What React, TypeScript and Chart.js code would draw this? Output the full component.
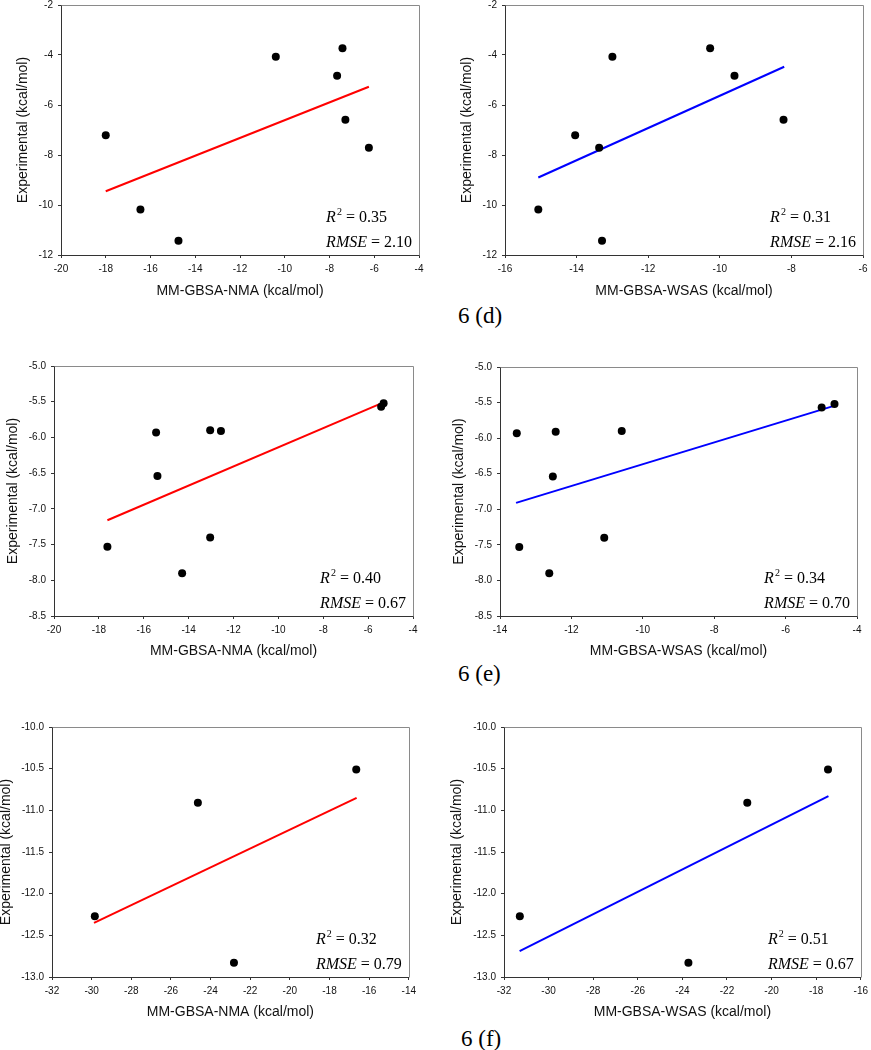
import React, { useEffect, useRef } from 'react';
import { Chart, registerables } from 'chart.js';

Chart.register(...registerables);

// ---------- data: row (d) ----------
const expD = [-7.21, -10.18, -11.43, -4.07, -3.73, -4.83, -6.59, -7.71];
const nmaD = [-18.0, -16.45, -14.75, -10.4, -7.42, -7.66, -7.29, -6.24];
const wsasD = [-14.04, -15.07, -13.29, -13.0, -10.27, -9.59, -8.22, -13.37];
const fitNmaDx = [-18.0, -6.24];
const fitNmaDy = [-9.45, -5.27];
const fitWsasDx = [-15.07, -8.2];
const fitWsasDy = [-8.9, -4.47];

// ---------- data: row (e) ----------
const expE = [-7.53, -5.93, -6.54, -7.9, -5.9, -5.91, -7.4, -5.57, -5.52];
const nmaE = [-17.62, -15.45, -15.39, -14.29, -13.04, -12.56, -13.04, -5.42, -5.31];
const wsasE = [-13.46, -13.53, -12.52, -12.62, -10.59, -12.44, -11.08, -4.99, -4.63];
const fitNmaEx = [-17.62, -5.31];
const fitNmaEy = [-7.16, -5.51];
const fitWsasEx = [-13.55, -4.6];
const fitWsasEy = [-6.91, -5.54];

// ---------- data: row (f) ----------
const expF = [-12.27, -10.91, -12.83, -10.51];
const nmaF = [-29.84, -24.64, -22.82, -16.65];
const wsasF = [-31.29, -21.09, -23.73, -17.47];
const fitNmaFx = [-29.88, -16.63];
const fitNmaFy = [-12.35, -10.85];
const fitWsasFx = [-31.3, -17.45];
const fitWsasFy = [-12.69, -10.83];

// ---------- axis ranges [min, max, step] ----------
const xRangeNmaD = [-20, -4, 2];
const xRangeWsasD = [-16, -6, 2];
const yRangeD = [-12, -2, 2];
const xRangeNmaE = [-20, -4, 2];
const xRangeWsasE = [-14, -4, 2];
const yRangeE = [-8.5, -5.0, 0.5];
const xRangeNmaF = [-32, -14, 2];
const xRangeWsasF = [-32, -16, 2];
const yRangeF = [-13.0, -10.0, 0.5];

// ---------- statistics ----------
const r2Values = ['0.35', '0.31', '0.40', '0.34', '0.32', '0.51'];
const rmseValues = ['2.10', '2.16', '0.67', '0.70', '0.79', '0.67'];

const captions = ['6 (d)', '6 (e)', '6 (f)'];
const xTitleNma = 'MM-GBSA-NMA (kcal/mol)';
const xTitleWsas = 'MM-GBSA-WSAS (kcal/mol)';
const yTitle = 'Experimental (kcal/mol)';

const SANS = '"Liberation Sans", Arial, sans-serif';
const SERIF = '"Liberation Serif", "Times New Roman", serif';

type Box = { L: number; T: number; R: number; B: number; yTitleX: number; xTitleY: number };
type PanelDef = {
  xs: number[];
  ys: number[];
  fitX: number[];
  fitY: number[];
  color: string;
  xTitle: string;
  xRange: number[];
  yRange: number[];
  yDec: number;
  r2: string;
  rmse: string;
  box: Box;
};

const panels: PanelDef[] = [
  {
    xs: nmaD, ys: expD, fitX: fitNmaDx, fitY: fitNmaDy, color: '#ff0000', xTitle: xTitleNma,
    xRange: xRangeNmaD, yRange: yRangeD, yDec: 0, r2: r2Values[0], rmse: rmseValues[0],
    box: { L: 61, T: 4, R: 419, B: 255, yTitleX: 23, xTitleY: 292 },
  },
  {
    xs: wsasD, ys: expD, fitX: fitWsasDx, fitY: fitWsasDy, color: '#0000ff', xTitle: xTitleWsas,
    xRange: xRangeWsasD, yRange: yRangeD, yDec: 0, r2: r2Values[1], rmse: rmseValues[1],
    box: { L: 505, T: 4, R: 863, B: 255, yTitleX: 467, xTitleY: 292 },
  },
  {
    xs: nmaE, ys: expE, fitX: fitNmaEx, fitY: fitNmaEy, color: '#ff0000', xTitle: xTitleNma,
    xRange: xRangeNmaE, yRange: yRangeE, yDec: 1, r2: r2Values[2], rmse: rmseValues[2],
    box: { L: 54, T: 365, R: 413, B: 616, yTitleX: 13, xTitleY: 652 },
  },
  {
    xs: wsasE, ys: expE, fitX: fitWsasEx, fitY: fitWsasEy, color: '#0000ff', xTitle: xTitleWsas,
    xRange: xRangeWsasE, yRange: yRangeE, yDec: 1, r2: r2Values[3], rmse: rmseValues[3],
    box: { L: 500, T: 366, R: 857, B: 616, yTitleX: 459, xTitleY: 652 },
  },
  {
    xs: nmaF, ys: expF, fitX: fitNmaFx, fitY: fitNmaFy, color: '#ff0000', xTitle: xTitleNma,
    xRange: xRangeNmaF, yRange: yRangeF, yDec: 1, r2: r2Values[4], rmse: rmseValues[4],
    box: { L: 52, T: 726, R: 411, B: 977, yTitleX: 6, xTitleY: 1013 },
  },
  {
    xs: wsasF, ys: expF, fitX: fitWsasFx, fitY: fitWsasFy, color: '#0000ff', xTitle: xTitleWsas,
    xRange: xRangeWsasF, yRange: yRangeF, yDec: 1, r2: r2Values[5], rmse: rmseValues[5],
    box: { L: 504, T: 726, R: 863, B: 977, yTitleX: 457, xTitleY: 1013 },
  },
];

const captionPos = [
  { left: 458, center: 315 },
  { left: 458, center: 673 },
  { left: 461, center: 1038 },
];

function drawStats(ctx: CanvasRenderingContext2D, area: any, r2: string, rmse: string) {
  const italic = `italic 16px ${SERIF}`;
  const upright = `16px ${SERIF}`;
  const sup = `10px ${SERIF}`;
  ctx.fillStyle = '#000';
  ctx.textAlign = 'left';
  ctx.textBaseline = 'alphabetic';
  ctx.font = italic;
  const wRMSE = ctx.measureText('RMSE').width;
  const wR = ctx.measureText('R').width;
  ctx.font = upright;
  const rhs2 = ' = ' + rmse;
  const wRhs2 = ctx.measureText(rhs2).width;
  const x0 = area.right - 7 - wRMSE - wRhs2;
  const y1 = area.bottom - 33;
  const y2 = area.bottom - 8;
  ctx.font = italic;
  ctx.fillText('R', x0, y1);
  ctx.fillText('RMSE', x0, y2);
  ctx.font = sup;
  ctx.fillText('2', x0 + wR + 1, y1 - 7);
  const w2 = ctx.measureText('2').width;
  ctx.font = upright;
  ctx.fillText(' = ' + r2, x0 + wR + 1 + w2, y1);
  ctx.fillText(rhs2, x0 + wRMSE, y2);
}

function ScatterPanel({ p }: { p: PanelDef }) {
  const ref = useRef<HTMLCanvasElement>(null);
  const b = p.box;
  const left = b.yTitleX - 8;
  const top = b.T - 10;
  const width = b.R + 10 - left;
  const height = b.xTitleY + 8 - top;
  const yw = b.L - left;
  const xh = top + height - b.B;

  useEffect(() => {
    if (!ref.current) return;
    const points = p.xs.map((x, i) => ({ x, y: p.ys[i] }));
    const fit = p.fitX.map((x, i) => ({ x, y: p.fitY[i] }));
    const framePlugin = {
      id: 'frameStats',
      afterDraw(chart: any) {
        const { ctx, chartArea: a } = chart;
        ctx.save();
        ctx.strokeStyle = '#8a8a8a';
        ctx.lineWidth = 1;
        ctx.beginPath();
        const l = Math.round(a.left) + 0.5;
        const t = Math.round(a.top) + 0.5;
        const r = Math.round(a.right) + 0.5;
        const bt = Math.round(a.bottom) + 0.5;
        ctx.moveTo(l, t);
        ctx.lineTo(r, t);
        ctx.lineTo(r, bt);
        ctx.stroke();
        drawStats(ctx, a, p.r2, p.rmse);
        ctx.restore();
      },
    };
    const chart = new Chart(ref.current, {
      type: 'scatter',
      data: {
        datasets: [
          {
            data: points,
            backgroundColor: '#000',
            borderColor: '#000',
            pointRadius: 4,
            pointHoverRadius: 4,
            borderWidth: 0,
          },
          {
            data: fit,
            showLine: true,
            borderColor: p.color,
            backgroundColor: p.color,
            borderWidth: 2,
            pointRadius: 0,
            pointHoverRadius: 0,
          } as any,
        ],
      },
      options: {
        animation: false,
        responsive: false,
        devicePixelRatio: 1,
        layout: { padding: { left: 0, top: 10, right: 10, bottom: 0 } },
        plugins: { legend: { display: false }, tooltip: { enabled: false } },
        scales: {
          x: {
            type: 'linear',
            position: 'bottom',
            min: p.xRange[0],
            max: p.xRange[1],
            afterFit: (s: any) => {
              s.height = xh;
            },
            ticks: {
              stepSize: p.xRange[2],
              autoSkip: false,
              maxRotation: 0,
              padding: 5,
              color: '#111',
              font: { family: SANS, size: 10 },
              callback: (v: any) => String(Math.round(Number(v))),
            },
            grid: { display: true, drawOnChartArea: false, drawTicks: true, tickLength: 3, color: '#333' },
            border: { display: true, color: '#333', width: 1 },
            title: {
              display: true,
              text: p.xTitle,
              color: '#111',
              font: { family: SANS, size: 14 },
              padding: { top: 0, bottom: 0 },
            },
          },
          y: {
            type: 'linear',
            position: 'left',
            min: p.yRange[0],
            max: p.yRange[1],
            afterFit: (s: any) => {
              s.width = yw;
            },
            ticks: {
              stepSize: p.yRange[2],
              autoSkip: false,
              padding: 5,
              color: '#111',
              font: { family: SANS, size: 10 },
              callback: (v: any) => Number(v).toFixed(p.yDec),
            },
            grid: { display: true, drawOnChartArea: false, drawTicks: true, tickLength: 3, color: '#333' },
            border: { display: true, color: '#333', width: 1 },
            title: {
              display: true,
              text: yTitle,
              color: '#111',
              font: { family: SANS, size: 14 },
              padding: { top: 0, bottom: 0 },
            },
          },
        },
      } as any,
      plugins: [framePlugin],
    });
    return () => chart.destroy();
  }, []);

  return (
    <canvas
      ref={ref}
      width={width}
      height={height}
      style={{ position: 'absolute', left, top, width, height }}
    />
  );
}

export default function App() {
  return (
    <div
      style={{
        position: 'fixed',
        left: 0,
        top: 0,
        width: 871,
        height: 1050,
        background: '#fff',
        overflow: 'hidden',
      }}
    >
      {panels.map((p, i) => (
        <ScatterPanel key={i} p={p} />
      ))}
      {captions.map((c, i) => (
        <div
          key={c}
          style={{
            position: 'absolute',
            left: captionPos[i].left,
            top: captionPos[i].center - 11.5,
            fontFamily: SERIF,
            fontSize: 23,
            lineHeight: '23px',
            color: '#000',
            whiteSpace: 'nowrap',
          }}
        >
          {c}
        </div>
      ))}
    </div>
  );
}
